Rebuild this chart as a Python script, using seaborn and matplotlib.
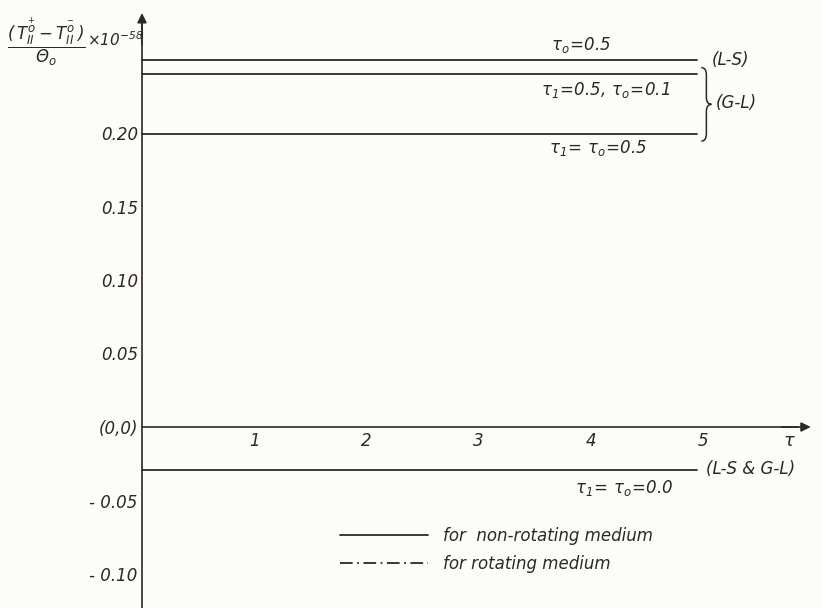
import matplotlib
matplotlib.use("Agg")
import matplotlib.pyplot as plt
from matplotlib.lines import Line2D
from matplotlib.path import Path
from matplotlib.patches import PathPatch
import seaborn as sns

# values (x 10^-58)
tau = [0.0, 4.95]
ls_tau0_05 = [0.250, 0.250]          # (L-S)  tau_o = 0.5
gl_tau1_05_tau0_01 = [0.240, 0.240]  # (G-L)  tau_1 = 0.5, tau_o = 0.1
gl_tau1_tau0_05 = [0.199, 0.199]     # (G-L)  tau_1 = tau_o = 0.5
both_tau0_00 = [-0.029, -0.029]      # (L-S & G-L) tau_1 = tau_o = 0.0

x_ticks = [1, 2, 3, 4, 5]
y_ticks = [0.20, 0.15, 0.10, 0.05, 0.0, -0.05, -0.10]
y_ticklabels = ["0.20", "0.15", "0.10", "0.05", "(0,0)", "- 0.05", "- 0.10"]

ink = "#2e2824"
paper = "#fcfcf8"

sns.set_theme(style="white")
plt.rcParams["font.family"] = ["DejaVu Sans"]
plt.rcParams["font.style"] = "italic"
plt.rcParams["mathtext.fontset"] = "dejavusans"
plt.rcParams["mathtext.default"] = "it"
plt.rcParams["text.color"] = ink
plt.rcParams["xtick.color"] = ink
plt.rcParams["ytick.color"] = ink

fig = plt.figure(figsize=(8.22, 6.08), dpi=100, facecolor=paper)
ax = fig.add_axes([0, 0, 1, 1])
ax.set_facecolor(paper)
ax.set_xlim(-142 / 112.2, 680 / 112.2)
ax.set_ylim(-181 / 1470, 427 / 1470)

for yv in [ls_tau0_05, gl_tau1_05_tau0_01, gl_tau1_tau0_05, both_tau0_00]:
    sns.lineplot(x=tau, y=yv, ax=ax, color=ink, lw=1.3)

# axes through the origin
for s in ["top", "right"]:
    ax.spines[s].set_visible(False)
ax.spines["left"].set_position(("data", 0))
ax.spines["bottom"].set_position(("data", 0))
ax.spines["left"].set_bounds(-0.13, 0.275)
ax.spines["bottom"].set_bounds(0, 5.85)
ax.spines["left"].set_color(ink)
ax.spines["bottom"].set_color(ink)
ax.spines["left"].set_linewidth(1.2)
ax.spines["bottom"].set_linewidth(1.2)
ax.annotate("", xy=(5.96, 0), xytext=(5.7, 0),
            arrowprops=dict(arrowstyle="-|>", color=ink, lw=1.2, mutation_scale=14, shrinkA=0, shrinkB=0))
ax.annotate("", xy=(0, 0.2816), xytext=(0, 0.26),
            arrowprops=dict(arrowstyle="-|>", color=ink, lw=1.2, mutation_scale=14, shrinkA=0, shrinkB=0))

ax.set_xticks(x_ticks)
ax.set_xticklabels([str(t) for t in x_ticks])
ax.set_yticks(y_ticks)
ax.set_yticklabels(y_ticklabels)
ax.tick_params(axis="x", direction="in", length=5, width=1.1, pad=3.5, labelsize=12)
ax.tick_params(axis="y", direction="in", length=5, width=1.1, pad=3, labelsize=12)
ax.set_xlabel("")
ax.set_ylabel("")

ax.text(5.77, -0.0095, r"$\tau$", fontsize=13, ha="center", va="center")

# y label
ax.text(-0.855, 0.2615, r"$\dfrac{(\,T_{II}^{\overset{+}{o}}-T_{II}^{\overset{-}{o}}\,)}{\Theta_o}$",
        fontsize=12, ha="center", va="center")
ax.text(-0.49, 0.2635, r"$\times10^{-58}$", fontsize=11, ha="left", va="center")

# curve labels
fs = 12
ax.text(3.91, 0.2596, r"$\tau_o\!=\!0.5$", fontsize=fs, ha="center", va="center")
ax.text(4.13, 0.2292, r"$\tau_1\!=\!0.5,\,\tau_o\!=\!0.1$", fontsize=fs, ha="center", va="center")
ax.text(4.07, 0.1898, r"$\tau_1\!=\,\tau_o\!=\!0.5$", fontsize=fs, ha="center", va="center")
ax.text(4.30, -0.0414, r"$\tau_1\!=\,\tau_o\!=\!0.0$", fontsize=fs, ha="center", va="center")
ax.text(5.08, 0.2497, "(L-S)", fontsize=fs, ha="left", va="center")
ax.text(5.11, 0.2202, "(G-L)", fontsize=fs, ha="left", va="center")
ax.text(5.03, -0.0286, "(L-S & G-L)", fontsize=fs, ha="left", va="center")

# brace grouping the two (G-L) curves
x0, x1, x2 = 4.985, 5.03, 5.075
top = gl_tau1_05_tau0_01[0] + 0.0045
bot = gl_tau1_tau0_05[0] - 0.0045
mid = (top + bot) / 2
d = 0.005
verts = [(x0, top), (x1, top), (x1, top - d), (x1, mid + d), (x1, mid), (x2, mid),
         (x1, mid), (x1, mid - d), (x1, bot + d), (x1, bot), (x0, bot)]
codes = [Path.MOVETO, Path.CURVE3, Path.CURVE3, Path.LINETO, Path.CURVE3, Path.CURVE3,
         Path.CURVE3, Path.CURVE3, Path.LINETO, Path.CURVE3, Path.CURVE3]
ax.add_patch(PathPatch(Path(verts, codes), fill=False, edgecolor=ink, lw=1.1))

# legend
handles = [Line2D([], [], color=ink, lw=1.3, ls="-"),
           Line2D([], [], color=ink, lw=1.3, dashes=(7, 2.5, 1, 2.5))]
ax.legend(handles, ["for  non-rotating medium", "for rotating medium"],
          loc="upper left", bbox_to_anchor=(340 / 822, 1 - 527 / 608), bbox_transform=fig.transFigure,
          frameon=False, fontsize=12, handlelength=5.3, handletextpad=0.9, labelspacing=0.6,
          borderpad=0, borderaxespad=0)

fig.savefig("out.png", dpi=100, facecolor=paper)
